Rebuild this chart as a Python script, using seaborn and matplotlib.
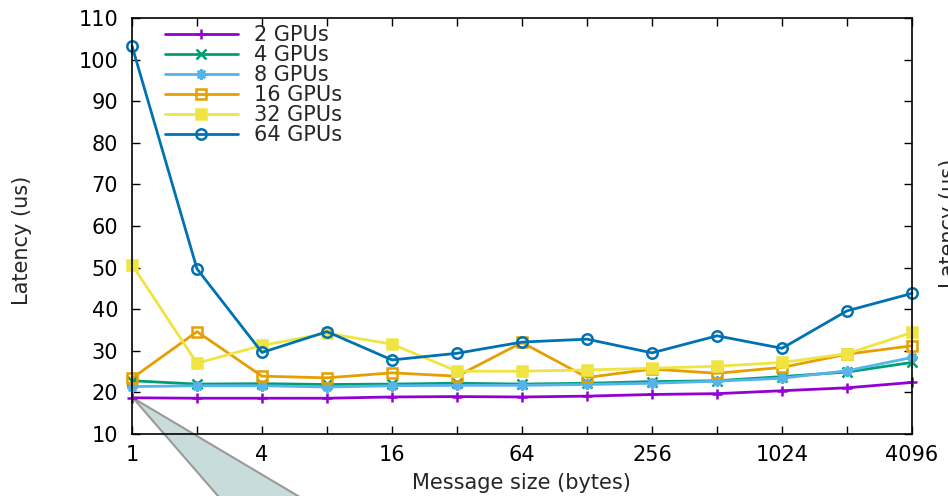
import matplotlib
matplotlib.use("Agg")
import matplotlib.pyplot as plt
from matplotlib.patches import Polygon
from matplotlib.transforms import IdentityTransform
import seaborn as sns
import pandas as pd

# Message sizes in bytes
sizes = [1, 2, 4, 8, 16, 32, 64, 128, 256, 512, 1024, 2048, 4096]
tick_labels = ["1", "", "4", "", "16", "", "64", "", "256", "", "1024", "", "4096"]

# Latency (us) per GPU count
lat_2 = [18.7, 18.6, 18.6, 18.6, 18.9, 19.0, 18.9, 19.1, 19.5, 19.7, 20.4, 21.1, 22.4]
lat_4 = [22.8, 22.0, 22.1, 21.9, 22.0, 22.2, 22.0, 22.2, 22.6, 22.8, 23.8, 24.9, 27.2]
lat_8 = [21.4, 21.6, 21.6, 21.3, 21.6, 21.7, 21.7, 21.9, 22.2, 22.7, 23.4, 25.2, 28.4]
lat_16 = [23.4, 34.6, 23.9, 23.5, 24.7, 23.9, 32.0, 23.6, 25.6, 24.6, 26.0, 29.2, 31.2]
lat_32 = [50.7, 27.0, 31.3, 34.2, 31.6, 25.1, 25.1, 25.4, 25.8, 26.3, 27.2, 29.3, 34.4]
lat_64 = [103.3, 49.7, 29.6, 34.6, 27.8, 29.4, 32.1, 32.8, 29.5, 33.6, 30.6, 39.6, 43.8]

series_names = ["2 GPUs", "4 GPUs", "8 GPUs", "16 GPUs", "32 GPUs", "64 GPUs"]
series_values = [lat_2, lat_4, lat_8, lat_16, lat_32, lat_64]

colors = ["#9400d3", "#009e73", "#56b4e9", "#e69f00", "#f0e442", "#0072b2"]
markers = ["+", "x", (8, 2, 0), "s", "s", "o"]
filled = [True, True, True, False, True, False]

sns.set_theme(style="ticks")
plt.rcParams["font.family"] = ["DejaVu Sans"]
FS = 15

W, H = 948, 496
fig = plt.figure(figsize=(W / 100, H / 100), dpi=100)
fig.patch.set_facecolor("white")

L, R, T, B = 132, 912, 18, 434
ax = fig.add_axes([L / W, 1 - B / H, (R - L) / W, (B - T) / H])
ax.patch.set_alpha(0)
ax.set_zorder(2)

df = pd.DataFrame({
    "size": sizes * len(series_names),
    "latency": [v for vals in series_values for v in vals],
    "series": [n for n in series_names for _ in sizes],
})

for name, color, mk, fill in zip(series_names, colors, markers, filled):
    sub = df[df["series"] == name]
    sns.lineplot(
        data=sub, x="size", y="latency", ax=ax, color=color, label=name,
        marker=mk, markersize=7.5 if mk != "+" else 7.5,
        markeredgecolor=color,
        markerfacecolor=(color if fill else "none"),
        markeredgewidth=1.8, linewidth=2.0, clip_on=False,
    )

ax.set_xscale("log", base=2)
ax.set_xlim(1, 4096)
ax.set_ylim(10, 110)
ax.set_xticks(sizes)
ax.set_xticklabels(tick_labels)
ax.minorticks_off()
ax.set_yticks(range(10, 111, 10))
ax.set_xlabel("")
ax.set_ylabel("")

for s in ax.spines.values():
    s.set_visible(True)
    s.set_linewidth(1.2)
    s.set_color("black")

ax.tick_params(axis="both", which="major", direction="in", length=6, width=1.0,
               top=True, right=True, labelsize=FS, colors="black")
ax.tick_params(axis="x", pad=8)
ax.tick_params(axis="y", pad=10)

leg = ax.legend(
    loc="upper left", bbox_to_anchor=(165 / W, 1 - 25 / H),
    bbox_transform=fig.transFigure, frameon=False, fontsize=FS,
    handlelength=3.5, handletextpad=0.75, labelspacing=0.0,
    borderpad=0, borderaxespad=0,
)

fig.text(22 / W, 1 - 240 / H, "Latency (us)", rotation=90, ha="center", va="center",
         fontsize=FS)
fig.text(521 / W, 1 - 483 / H, "Message size (bytes)", ha="center", va="center",
         fontsize=FS)
fig.text(939 / W, 1 - 223 / H, "Latency (us)", rotation=90, ha="left", va="center",
         fontsize=FS)

# Callout shape pointing at the smallest message size
callout = Polygon([(133, H - 398), (218, H - 496), (218 + 0.87 * 20, H - 516),
                   (298 + 1.67 * 20, H - 516), (298, H - 496)],
                  closed=True, transform=IdentityTransform(),
                  facecolor="#c9dcdc", edgecolor="#9a9a9a", linewidth=1.5, zorder=1)
fig.patches.append(callout)

fig.savefig("out.png", dpi=100)
